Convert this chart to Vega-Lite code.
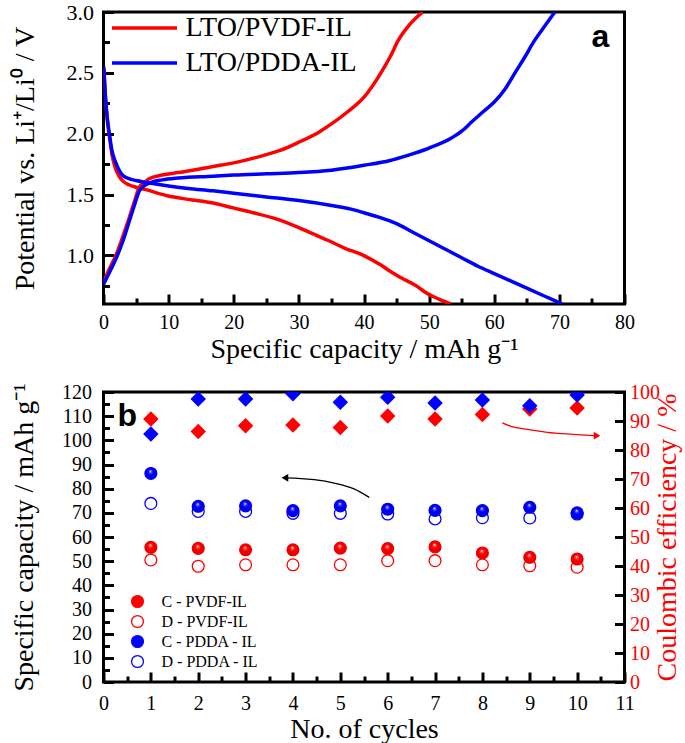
{
  "$schema": "https://vega.github.io/schema/vega-lite/v6.json",
  "background": "white",
  "padding": {"left": 8.5, "top": -1, "right": 0, "bottom": 0},
  "spacing": 15,
  "resolve": {"scale": {"color": "independent", "fill": "independent", "stroke": "independent", "x": "independent", "y": "independent"}, "legend": {"color": "independent", "fill": "independent", "stroke": "independent"}},
  "config": {
    "view": {"stroke": "black", "strokeWidth": 3},
    "font": "Liberation Serif",
    "axis": {
      "grid": false, "domain": false, "tickColor": "black", "tickWidth": 3, "tickSize": -10,
      "labelFont": "Liberation Serif", "labelFontSize": 20, "labelColor": "black",
      "titleFont": "Liberation Serif", "titleFontSize": 28, "titleFontWeight": "normal", "titleColor": "black",
      "labelOverlap": false, "labelFlush": false, "labelPadding": 20
    },
    "legend": {"labelLimit": 0}
  },
  "vconcat": [
    {
      "width": 521,
      "height": 292,
      "layer": [
        {
          "data": {"values": [
            {"cell":"LTO/PVDF-IL","branch":"PVDF charge","capacity":0,"potential":0.78},
            {"cell":"LTO/PVDF-IL","branch":"PVDF charge","capacity":1,"potential":0.9},
            {"cell":"LTO/PVDF-IL","branch":"PVDF charge","capacity":1.9,"potential":1.0},
            {"cell":"LTO/PVDF-IL","branch":"PVDF charge","capacity":3,"potential":1.16},
            {"cell":"LTO/PVDF-IL","branch":"PVDF charge","capacity":3.9,"potential":1.3},
            {"cell":"LTO/PVDF-IL","branch":"PVDF charge","capacity":4.8,"potential":1.45},
            {"cell":"LTO/PVDF-IL","branch":"PVDF charge","capacity":5.5,"potential":1.56},
            {"cell":"LTO/PVDF-IL","branch":"PVDF charge","capacity":6.3,"potential":1.6},
            {"cell":"LTO/PVDF-IL","branch":"PVDF charge","capacity":7,"potential":1.63},
            {"cell":"LTO/PVDF-IL","branch":"PVDF charge","capacity":9,"potential":1.66},
            {"cell":"LTO/PVDF-IL","branch":"PVDF charge","capacity":11.5,"potential":1.68},
            {"cell":"LTO/PVDF-IL","branch":"PVDF charge","capacity":16.8,"potential":1.73},
            {"cell":"LTO/PVDF-IL","branch":"PVDF charge","capacity":20,"potential":1.76},
            {"cell":"LTO/PVDF-IL","branch":"PVDF charge","capacity":24.5,"potential":1.82},
            {"cell":"LTO/PVDF-IL","branch":"PVDF charge","capacity":27,"potential":1.86},
            {"cell":"LTO/PVDF-IL","branch":"PVDF charge","capacity":30,"potential":1.93},
            {"cell":"LTO/PVDF-IL","branch":"PVDF charge","capacity":33,"potential":2.01},
            {"cell":"LTO/PVDF-IL","branch":"PVDF charge","capacity":35,"potential":2.08},
            {"cell":"LTO/PVDF-IL","branch":"PVDF charge","capacity":37.5,"potential":2.18},
            {"cell":"LTO/PVDF-IL","branch":"PVDF charge","capacity":40,"potential":2.3},
            {"cell":"LTO/PVDF-IL","branch":"PVDF charge","capacity":42.6,"potential":2.5},
            {"cell":"LTO/PVDF-IL","branch":"PVDF charge","capacity":44,"potential":2.63},
            {"cell":"LTO/PVDF-IL","branch":"PVDF charge","capacity":45.3,"potential":2.77},
            {"cell":"LTO/PVDF-IL","branch":"PVDF charge","capacity":46.9,"potential":2.89},
            {"cell":"LTO/PVDF-IL","branch":"PVDF charge","capacity":49,"potential":3.0},
            {"cell":"LTO/PVDF-IL","branch":"PVDF discharge","capacity":0.05,"potential":2.53},
            {"cell":"LTO/PVDF-IL","branch":"PVDF discharge","capacity":0.3,"potential":2.3},
            {"cell":"LTO/PVDF-IL","branch":"PVDF discharge","capacity":0.6,"potential":2.1},
            {"cell":"LTO/PVDF-IL","branch":"PVDF discharge","capacity":0.9,"potential":1.98},
            {"cell":"LTO/PVDF-IL","branch":"PVDF discharge","capacity":1.3,"potential":1.83},
            {"cell":"LTO/PVDF-IL","branch":"PVDF discharge","capacity":1.8,"potential":1.72},
            {"cell":"LTO/PVDF-IL","branch":"PVDF discharge","capacity":2.4,"potential":1.65},
            {"cell":"LTO/PVDF-IL","branch":"PVDF discharge","capacity":3,"potential":1.61},
            {"cell":"LTO/PVDF-IL","branch":"PVDF discharge","capacity":3.9,"potential":1.58},
            {"cell":"LTO/PVDF-IL","branch":"PVDF discharge","capacity":5,"potential":1.56},
            {"cell":"LTO/PVDF-IL","branch":"PVDF discharge","capacity":6.5,"potential":1.54},
            {"cell":"LTO/PVDF-IL","branch":"PVDF discharge","capacity":9.8,"potential":1.49},
            {"cell":"LTO/PVDF-IL","branch":"PVDF discharge","capacity":13,"potential":1.46},
            {"cell":"LTO/PVDF-IL","branch":"PVDF discharge","capacity":16.8,"potential":1.43},
            {"cell":"LTO/PVDF-IL","branch":"PVDF discharge","capacity":19.9,"potential":1.39},
            {"cell":"LTO/PVDF-IL","branch":"PVDF discharge","capacity":23,"potential":1.35},
            {"cell":"LTO/PVDF-IL","branch":"PVDF discharge","capacity":26.5,"potential":1.3},
            {"cell":"LTO/PVDF-IL","branch":"PVDF discharge","capacity":29.9,"potential":1.23},
            {"cell":"LTO/PVDF-IL","branch":"PVDF discharge","capacity":32,"potential":1.18},
            {"cell":"LTO/PVDF-IL","branch":"PVDF discharge","capacity":34.6,"potential":1.12},
            {"cell":"LTO/PVDF-IL","branch":"PVDF discharge","capacity":37,"potential":1.06},
            {"cell":"LTO/PVDF-IL","branch":"PVDF discharge","capacity":39.9,"potential":1.0},
            {"cell":"LTO/PVDF-IL","branch":"PVDF discharge","capacity":42.6,"potential":0.92},
            {"cell":"LTO/PVDF-IL","branch":"PVDF discharge","capacity":44,"potential":0.87},
            {"cell":"LTO/PVDF-IL","branch":"PVDF discharge","capacity":45.9,"potential":0.81},
            {"cell":"LTO/PVDF-IL","branch":"PVDF discharge","capacity":48,"potential":0.75},
            {"cell":"LTO/PVDF-IL","branch":"PVDF discharge","capacity":49.6,"potential":0.69},
            {"cell":"LTO/PVDF-IL","branch":"PVDF discharge","capacity":51.5,"potential":0.64},
            {"cell":"LTO/PVDF-IL","branch":"PVDF discharge","capacity":53.3,"potential":0.6},
            {"cell":"LTO/PDDA-IL","branch":"PDDA charge","capacity":0,"potential":0.76},
            {"cell":"LTO/PDDA-IL","branch":"PDDA charge","capacity":1,"potential":0.87},
            {"cell":"LTO/PDDA-IL","branch":"PDDA charge","capacity":1.9,"potential":0.97},
            {"cell":"LTO/PDDA-IL","branch":"PDDA charge","capacity":3,"potential":1.12},
            {"cell":"LTO/PDDA-IL","branch":"PDDA charge","capacity":3.9,"potential":1.27},
            {"cell":"LTO/PDDA-IL","branch":"PDDA charge","capacity":4.8,"potential":1.42},
            {"cell":"LTO/PDDA-IL","branch":"PDDA charge","capacity":5.5,"potential":1.53},
            {"cell":"LTO/PDDA-IL","branch":"PDDA charge","capacity":6.2,"potential":1.57},
            {"cell":"LTO/PDDA-IL","branch":"PDDA charge","capacity":7.3,"potential":1.6},
            {"cell":"LTO/PDDA-IL","branch":"PDDA charge","capacity":9,"potential":1.62},
            {"cell":"LTO/PDDA-IL","branch":"PDDA charge","capacity":11.5,"potential":1.635},
            {"cell":"LTO/PDDA-IL","branch":"PDDA charge","capacity":16.8,"potential":1.65},
            {"cell":"LTO/PDDA-IL","branch":"PDDA charge","capacity":20,"potential":1.66},
            {"cell":"LTO/PDDA-IL","branch":"PDDA charge","capacity":25,"potential":1.67},
            {"cell":"LTO/PDDA-IL","branch":"PDDA charge","capacity":30,"potential":1.68},
            {"cell":"LTO/PDDA-IL","branch":"PDDA charge","capacity":35,"potential":1.7},
            {"cell":"LTO/PDDA-IL","branch":"PDDA charge","capacity":40,"potential":1.74},
            {"cell":"LTO/PDDA-IL","branch":"PDDA charge","capacity":44,"potential":1.78},
            {"cell":"LTO/PDDA-IL","branch":"PDDA charge","capacity":46.6,"potential":1.82},
            {"cell":"LTO/PDDA-IL","branch":"PDDA charge","capacity":49.9,"potential":1.88},
            {"cell":"LTO/PDDA-IL","branch":"PDDA charge","capacity":53.3,"potential":1.96},
            {"cell":"LTO/PDDA-IL","branch":"PDDA charge","capacity":55,"potential":2.02},
            {"cell":"LTO/PDDA-IL","branch":"PDDA charge","capacity":56.6,"potential":2.1},
            {"cell":"LTO/PDDA-IL","branch":"PDDA charge","capacity":58.3,"potential":2.18},
            {"cell":"LTO/PDDA-IL","branch":"PDDA charge","capacity":60,"potential":2.26},
            {"cell":"LTO/PDDA-IL","branch":"PDDA charge","capacity":61.7,"potential":2.37},
            {"cell":"LTO/PDDA-IL","branch":"PDDA charge","capacity":63.3,"potential":2.51},
            {"cell":"LTO/PDDA-IL","branch":"PDDA charge","capacity":64.7,"potential":2.63},
            {"cell":"LTO/PDDA-IL","branch":"PDDA charge","capacity":66,"potential":2.75},
            {"cell":"LTO/PDDA-IL","branch":"PDDA charge","capacity":67.7,"potential":2.88},
            {"cell":"LTO/PDDA-IL","branch":"PDDA charge","capacity":69.3,"potential":3.0},
            {"cell":"LTO/PDDA-IL","branch":"PDDA discharge","capacity":0.05,"potential":2.55},
            {"cell":"LTO/PDDA-IL","branch":"PDDA discharge","capacity":0.3,"potential":2.3},
            {"cell":"LTO/PDDA-IL","branch":"PDDA discharge","capacity":0.6,"potential":2.12},
            {"cell":"LTO/PDDA-IL","branch":"PDDA discharge","capacity":0.9,"potential":2.0},
            {"cell":"LTO/PDDA-IL","branch":"PDDA discharge","capacity":1.3,"potential":1.86},
            {"cell":"LTO/PDDA-IL","branch":"PDDA discharge","capacity":1.9,"potential":1.76},
            {"cell":"LTO/PDDA-IL","branch":"PDDA discharge","capacity":2.5,"potential":1.69},
            {"cell":"LTO/PDDA-IL","branch":"PDDA discharge","capacity":2.9,"potential":1.66},
            {"cell":"LTO/PDDA-IL","branch":"PDDA discharge","capacity":3.9,"potential":1.63},
            {"cell":"LTO/PDDA-IL","branch":"PDDA discharge","capacity":5,"potential":1.615},
            {"cell":"LTO/PDDA-IL","branch":"PDDA discharge","capacity":6.5,"potential":1.6},
            {"cell":"LTO/PDDA-IL","branch":"PDDA discharge","capacity":10,"potential":1.57},
            {"cell":"LTO/PDDA-IL","branch":"PDDA discharge","capacity":13,"potential":1.55},
            {"cell":"LTO/PDDA-IL","branch":"PDDA discharge","capacity":16.8,"potential":1.53},
            {"cell":"LTO/PDDA-IL","branch":"PDDA discharge","capacity":20,"potential":1.51},
            {"cell":"LTO/PDDA-IL","branch":"PDDA discharge","capacity":25,"potential":1.48},
            {"cell":"LTO/PDDA-IL","branch":"PDDA discharge","capacity":30,"potential":1.45},
            {"cell":"LTO/PDDA-IL","branch":"PDDA discharge","capacity":35,"potential":1.41},
            {"cell":"LTO/PDDA-IL","branch":"PDDA discharge","capacity":38,"potential":1.38},
            {"cell":"LTO/PDDA-IL","branch":"PDDA discharge","capacity":40,"potential":1.35},
            {"cell":"LTO/PDDA-IL","branch":"PDDA discharge","capacity":42.5,"potential":1.31},
            {"cell":"LTO/PDDA-IL","branch":"PDDA discharge","capacity":45,"potential":1.26},
            {"cell":"LTO/PDDA-IL","branch":"PDDA discharge","capacity":47.5,"potential":1.19},
            {"cell":"LTO/PDDA-IL","branch":"PDDA discharge","capacity":50,"potential":1.12},
            {"cell":"LTO/PDDA-IL","branch":"PDDA discharge","capacity":52.5,"potential":1.05},
            {"cell":"LTO/PDDA-IL","branch":"PDDA discharge","capacity":55,"potential":0.98},
            {"cell":"LTO/PDDA-IL","branch":"PDDA discharge","capacity":57.5,"potential":0.91},
            {"cell":"LTO/PDDA-IL","branch":"PDDA discharge","capacity":60,"potential":0.85},
            {"cell":"LTO/PDDA-IL","branch":"PDDA discharge","capacity":62.5,"potential":0.79},
            {"cell":"LTO/PDDA-IL","branch":"PDDA discharge","capacity":65,"potential":0.73},
            {"cell":"LTO/PDDA-IL","branch":"PDDA discharge","capacity":67.5,"potential":0.67},
            {"cell":"LTO/PDDA-IL","branch":"PDDA discharge","capacity":70,"potential":0.61},
            {"cell":"LTO/PDDA-IL","branch":"PDDA discharge","capacity":70.4,"potential":0.6}
          ]},
          "mark": {"type": "line", "strokeWidth": 3.5, "interpolate": "monotone", "clip": true},
          "encoding": {
            "x": {"field": "capacity", "type": "quantitative",
              "scale": {"domain": [0, 80], "nice": false, "zero": false},
              "axis": {"orient": "bottom", "values": [0,10,20,30,40,50,60,70,80], "title": "Specific capacity / mAh g⁻¹", "labelPadding": 18, "titlePadding": 3}},
            "y": {"field": "potential", "type": "quantitative",
              "scale": {"domain": [0.6, 3.0], "nice": false, "zero": false},
              "axis": {"orient": "left", "values": [1.0,1.5,2.0,2.5,3.0], "format": ".1f", "title": "Potential vs. Li⁺/Li⁰ / V", "labelFontSize": 22, "labelPadding": 20, "titlePadding": 27}},
            "color": {"field": "cell", "type": "nominal",
              "scale": {"domain": ["LTO/PVDF-IL", "LTO/PDDA-IL"], "range": ["#ff0000", "#0000ff"]},
              "legend": {"orient": "none", "legendX": 27, "legendY": 2, "title": null, "symbolType": "M-6.5,0H6.5", "symbolSize": 100, "symbolStrokeWidth": 3.5, "labelFont": "Liberation Serif", "labelFontSize": 28, "labelColor": "black", "labelOffset": 27, "rowPadding": 7, "padding": 0, "labelLimit": 0}},
            "detail": {"field": "branch", "type": "nominal"}
          }
        },
        {
          "data": {"values": [{"label": "a", "capacity": 76.3, "potential": 2.71}]},
          "mark": {"type": "text", "font": "Liberation Sans", "fontWeight": "bold", "fontSize": 32, "align": "center", "baseline": "alphabetic", "color": "black"},
          "encoding": {
            "x": {"field": "capacity", "type": "quantitative",
              "scale": {"domain": [0, 80], "nice": false, "zero": false},
              "axis": {"orient": "bottom", "values": [5,15,25,35,45,55,65,75], "labels": false, "title": null, "tickSize": -6}},
            "y": {"field": "potential", "type": "quantitative",
              "scale": {"domain": [0.6, 3.0], "nice": false, "zero": false},
              "axis": {"orient": "left", "values": [0.75,1.25,1.75,2.25,2.75], "labels": false, "title": null, "tickSize": -6}},
            "text": {"field": "label"}
          }
        }
      ],
      "resolve": {"axis": {"x": "independent", "y": "independent"}}
    },
    {
      "width": 521,
      "height": 290,
      "layer": [
        {
          "data": {"values": [
            {"cycle":1,"series":"C - PVDF-IL","capacity":55.7},
            {"cycle":2,"series":"C - PVDF-IL","capacity":55.3},
            {"cycle":3,"series":"C - PVDF-IL","capacity":54.7},
            {"cycle":4,"series":"C - PVDF-IL","capacity":54.7},
            {"cycle":5,"series":"C - PVDF-IL","capacity":55.4},
            {"cycle":6,"series":"C - PVDF-IL","capacity":55.2},
            {"cycle":7,"series":"C - PVDF-IL","capacity":55.9},
            {"cycle":8,"series":"C - PVDF-IL","capacity":53.4},
            {"cycle":9,"series":"C - PVDF-IL","capacity":51.6},
            {"cycle":10,"series":"C - PVDF-IL","capacity":50.9},
            {"cycle":1,"series":"C - PDDA - IL","capacity":86.3},
            {"cycle":2,"series":"C - PDDA - IL","capacity":72.7},
            {"cycle":3,"series":"C - PDDA - IL","capacity":72.9},
            {"cycle":4,"series":"C - PDDA - IL","capacity":70.9},
            {"cycle":5,"series":"C - PDDA - IL","capacity":72.9},
            {"cycle":6,"series":"C - PDDA - IL","capacity":71.5},
            {"cycle":7,"series":"C - PDDA - IL","capacity":71.0},
            {"cycle":8,"series":"C - PDDA - IL","capacity":70.9},
            {"cycle":9,"series":"C - PDDA - IL","capacity":72.3},
            {"cycle":10,"series":"C - PDDA - IL","capacity":70.0},
            {"cycle":1,"series":"D - PVDF-IL","capacity":50.5},
            {"cycle":2,"series":"D - PVDF-IL","capacity":47.9},
            {"cycle":3,"series":"D - PVDF-IL","capacity":48.5},
            {"cycle":4,"series":"D - PVDF-IL","capacity":48.5},
            {"cycle":5,"series":"D - PVDF-IL","capacity":48.5},
            {"cycle":6,"series":"D - PVDF-IL","capacity":50.2},
            {"cycle":7,"series":"D - PVDF-IL","capacity":50.2},
            {"cycle":8,"series":"D - PVDF-IL","capacity":48.5},
            {"cycle":9,"series":"D - PVDF-IL","capacity":48.1},
            {"cycle":10,"series":"D - PVDF-IL","capacity":47.5},
            {"cycle":1,"series":"D - PDDA - IL","capacity":73.9},
            {"cycle":2,"series":"D - PDDA - IL","capacity":70.6},
            {"cycle":3,"series":"D - PDDA - IL","capacity":70.6},
            {"cycle":4,"series":"D - PDDA - IL","capacity":69.8},
            {"cycle":5,"series":"D - PDDA - IL","capacity":69.8},
            {"cycle":6,"series":"D - PDDA - IL","capacity":69.5},
            {"cycle":7,"series":"D - PDDA - IL","capacity":67.5},
            {"cycle":8,"series":"D - PDDA - IL","capacity":68.0},
            {"cycle":9,"series":"D - PDDA - IL","capacity":67.9},
            {"cycle":10,"series":"D - PDDA - IL","capacity":69.5}
          ]},
          "mark": {"type": "point", "shape": "circle", "size": 140, "strokeWidth": 1.3, "opacity": 1},
          "encoding": {
            "x": {"field": "cycle", "type": "quantitative",
              "scale": {"domain": [0, 11], "nice": false, "zero": false},
              "axis": {"orient": "bottom", "values": [0,1,2,3,4,5,6,7,8,9,10,11], "title": "No. of cycles", "labelPadding": 21, "titlePadding": 2}},
            "y": {"field": "capacity", "type": "quantitative",
              "scale": {"domain": [0, 120], "nice": false},
              "axis": {"orient": "left", "values": [0,10,20,30,40,50,60,70,80,90,100,110,120], "title": "Specific capacity / mAh g⁻¹", "labelPadding": 22, "titlePadding": 23}},
            "fill": {"field": "series", "type": "nominal",
              "scale": {"domain": ["C - PVDF-IL", "D - PVDF-IL", "C - PDDA - IL", "D - PDDA - IL"], "range": ["#ff0000", "transparent", "#0000ff", "transparent"]},
              "legend": {"orient": "none", "legendX": 26, "legendY": 201.5, "title": null, "symbolType": "circle", "symbolSize": 140, "symbolStrokeWidth": 1.3, "labelFont": "Liberation Serif", "labelFontSize": 16, "labelColor": "black", "labelOffset": 16, "rowPadding": 2, "padding": 0, "labelLimit": 0}},
            "stroke": {"field": "series", "type": "nominal",
              "scale": {"domain": ["C - PVDF-IL", "D - PVDF-IL", "C - PDDA - IL", "D - PDDA - IL"], "range": ["#ff0000", "#ff0000", "#0000ff", "#0000ff"]},
              "legend": {"orient": "none", "legendX": 26, "legendY": 201.5, "title": null, "symbolType": "circle", "symbolSize": 140, "symbolStrokeWidth": 1.3, "labelFont": "Liberation Serif", "labelFontSize": 16, "labelColor": "black", "labelOffset": 16, "rowPadding": 2, "padding": 0, "labelLimit": 0}}
          }
        },
        {
          "data": {"values": [
            {"cycle":1,"polymer":"PVDF","efficiency":90.7},
            {"cycle":2,"polymer":"PVDF","efficiency":86.4},
            {"cycle":3,"polymer":"PVDF","efficiency":88.4},
            {"cycle":4,"polymer":"PVDF","efficiency":88.6},
            {"cycle":5,"polymer":"PVDF","efficiency":87.8},
            {"cycle":6,"polymer":"PVDF","efficiency":91.7},
            {"cycle":7,"polymer":"PVDF","efficiency":90.7},
            {"cycle":8,"polymer":"PVDF","efficiency":92.2},
            {"cycle":9,"polymer":"PVDF","efficiency":94.1},
            {"cycle":10,"polymer":"PVDF","efficiency":94.5},
            {"cycle":1,"polymer":"PDDA","efficiency":85.5},
            {"cycle":2,"polymer":"PDDA","efficiency":97.6},
            {"cycle":3,"polymer":"PDDA","efficiency":97.6},
            {"cycle":4,"polymer":"PDDA","efficiency":99.4},
            {"cycle":5,"polymer":"PDDA","efficiency":96.5},
            {"cycle":6,"polymer":"PDDA","efficiency":98.2},
            {"cycle":7,"polymer":"PDDA","efficiency":96.2},
            {"cycle":8,"polymer":"PDDA","efficiency":97.2},
            {"cycle":9,"polymer":"PDDA","efficiency":95.3},
            {"cycle":10,"polymer":"PDDA","efficiency":99.0}
          ]},
          "mark": {"type": "point", "shape": "diamond", "filled": true, "size": 240, "opacity": 1, "clip": true},
          "encoding": {
            "x": {"field": "cycle", "type": "quantitative", "scale": {"domain": [0, 11], "nice": false, "zero": false}, "axis": null},
            "y": {"field": "efficiency", "type": "quantitative",
              "scale": {"domain": [0, 100], "nice": false},
              "axis": {"orient": "right", "values": [0,10,20,30,40,50,60,70,80,90,100], "title": "Coulombic efficiency / %", "labelColor": "#ff0000", "titleColor": "#ff0000", "labelPadding": 15, "titlePadding": -6, "titleAngle": 270, "titleBaseline": "top"}},
            "color": {"field": "polymer", "type": "nominal",
              "scale": {"domain": ["PVDF", "PDDA"], "range": ["#ff0000", "#0000ff"]}, "legend": null}
          }
        },
        {
          "data": {"values": [
            {"cycle":1,"series":"C - PVDF-IL","capacity":55.7},
            {"cycle":2,"series":"C - PVDF-IL","capacity":55.3},
            {"cycle":3,"series":"C - PVDF-IL","capacity":54.7},
            {"cycle":4,"series":"C - PVDF-IL","capacity":54.7},
            {"cycle":5,"series":"C - PVDF-IL","capacity":55.4},
            {"cycle":6,"series":"C - PVDF-IL","capacity":55.2},
            {"cycle":7,"series":"C - PVDF-IL","capacity":55.9},
            {"cycle":8,"series":"C - PVDF-IL","capacity":53.4},
            {"cycle":9,"series":"C - PVDF-IL","capacity":51.6},
            {"cycle":10,"series":"C - PVDF-IL","capacity":50.9}
          ]},
          "mark": {"type": "point", "shape": "circle", "size": 140, "strokeWidth": 0, "opacity": 1,
            "fill": {"gradient": "radial", "x1": 0.45, "y1": 0.3, "r1": 0, "x2": 0.5, "y2": 0.5, "r2": 0.5,
              "stops": [{"offset": 0, "color": "#ffffff"}, {"offset": 0.22, "color": "#ff5050"}, {"offset": 0.45, "color": "#ff0000"}, {"offset": 1, "color": "#e00000"}]}},
          "encoding": {
            "x": {"field": "cycle", "type": "quantitative", "scale": {"domain": [0, 11], "nice": false, "zero": false}, "axis": null},
            "y": {"field": "capacity", "type": "quantitative", "scale": {"domain": [0, 120], "nice": false}, "axis": null}
          }
        },
        {
          "data": {"values": [
            {"cycle":1,"series":"C - PDDA - IL","capacity":86.3},
            {"cycle":2,"series":"C - PDDA - IL","capacity":72.7},
            {"cycle":3,"series":"C - PDDA - IL","capacity":72.9},
            {"cycle":4,"series":"C - PDDA - IL","capacity":70.9},
            {"cycle":5,"series":"C - PDDA - IL","capacity":72.9},
            {"cycle":6,"series":"C - PDDA - IL","capacity":71.5},
            {"cycle":7,"series":"C - PDDA - IL","capacity":71.0},
            {"cycle":8,"series":"C - PDDA - IL","capacity":70.9},
            {"cycle":9,"series":"C - PDDA - IL","capacity":72.3},
            {"cycle":10,"series":"C - PDDA - IL","capacity":70.0}
          ]},
          "mark": {"type": "point", "shape": "circle", "size": 140, "strokeWidth": 0, "opacity": 1,
            "fill": {"gradient": "radial", "x1": 0.45, "y1": 0.3, "r1": 0, "x2": 0.5, "y2": 0.5, "r2": 0.5,
              "stops": [{"offset": 0, "color": "#ffffff"}, {"offset": 0.22, "color": "#5050ff"}, {"offset": 0.45, "color": "#0000ff"}, {"offset": 1, "color": "#0000d8"}]}},
          "encoding": {
            "x": {"field": "cycle", "type": "quantitative", "scale": {"domain": [0, 11], "nice": false, "zero": false}, "axis": null},
            "y": {"field": "capacity", "type": "quantitative", "scale": {"domain": [0, 120], "nice": false}, "axis": null}
          }
        },
        {
          "data": {"values": [
            {"arrow":"capacity","cycle":5.61,"capacity":76.4},
            {"arrow":"capacity","cycle":5.29,"capacity":79.9},
            {"arrow":"capacity","cycle":4.87,"capacity":82.3},
            {"arrow":"capacity","cycle":4.45,"capacity":83.7},
            {"arrow":"capacity","cycle":4.03,"capacity":84.4},
            {"arrow":"capacity","cycle":3.83,"capacity":84.5}
          ]},
          "mark": {"type": "line", "color": "black", "strokeWidth": 1.3, "interpolate": "monotone"},
          "encoding": {
            "x": {"field": "cycle", "type": "quantitative", "scale": {"domain": [0, 11], "nice": false, "zero": false},
              "axis": {"orient": "bottom", "values": [0.5,1.5,2.5,3.5,4.5,5.5,6.5,7.5,8.5,9.5,10.5], "labels": false, "title": null, "tickSize": -6}},
            "y": {"field": "capacity", "type": "quantitative", "scale": {"domain": [0, 120], "nice": false},
              "axis": {"orient": "left", "values": [5,15,25,35,45,55,65,75,85,95,105,115], "labels": false, "title": null, "tickSize": -6}}
          }
        },
        {
          "data": {"values": [{"arrow":"capacity","cycle":3.83,"capacity":84.5}]},
          "mark": {"type": "point", "shape": "triangle-left", "filled": true, "color": "black", "size": 60, "opacity": 1},
          "encoding": {
            "x": {"field": "cycle", "type": "quantitative", "scale": {"domain": [0, 11], "nice": false, "zero": false}, "axis": null},
            "y": {"field": "capacity", "type": "quantitative", "scale": {"domain": [0, 120], "nice": false}, "axis": null}
          }
        },
        {
          "data": {"values": [
            {"arrow":"efficiency","cycle":8.42,"capacity":107.2},
            {"arrow":"efficiency","cycle":8.6,"capacity":105.8},
            {"arrow":"efficiency","cycle":8.88,"capacity":104.7},
            {"arrow":"efficiency","cycle":9.37,"capacity":103.3},
            {"arrow":"efficiency","cycle":9.9,"capacity":102.5},
            {"arrow":"efficiency","cycle":10.42,"capacity":101.9}
          ]},
          "mark": {"type": "line", "color": "#ff0000", "strokeWidth": 1.3, "interpolate": "monotone"},
          "encoding": {
            "x": {"field": "cycle", "type": "quantitative", "scale": {"domain": [0, 11], "nice": false, "zero": false}, "axis": null},
            "y": {"field": "capacity", "type": "quantitative", "scale": {"domain": [0, 120], "nice": false}, "axis": null}
          }
        },
        {
          "data": {"values": [{"arrow":"efficiency","cycle":10.42,"capacity":101.9}]},
          "mark": {"type": "point", "shape": "triangle-right", "filled": true, "color": "#ff0000", "size": 60, "opacity": 1},
          "encoding": {
            "x": {"field": "cycle", "type": "quantitative", "scale": {"domain": [0, 11], "nice": false, "zero": false}, "axis": null},
            "y": {"field": "capacity", "type": "quantitative", "scale": {"domain": [0, 120], "nice": false}, "axis": null}
          }
        },
        {
          "data": {"values": [{"label": "b", "cycle": 0.5, "capacity": 105.9}]},
          "mark": {"type": "text", "font": "Liberation Sans", "fontWeight": "bold", "fontSize": 32, "align": "center", "baseline": "alphabetic", "color": "black"},
          "encoding": {
            "x": {"field": "cycle", "type": "quantitative", "scale": {"domain": [0, 11], "nice": false, "zero": false}, "axis": null},
            "y": {"field": "capacity", "type": "quantitative", "scale": {"domain": [0, 120], "nice": false}, "axis": null},
            "text": {"field": "label"}
          }
        }
      ],
      "resolve": {"scale": {"y": "independent"}, "axis": {"x": "independent", "y": "independent"}}
    }
  ]
}
